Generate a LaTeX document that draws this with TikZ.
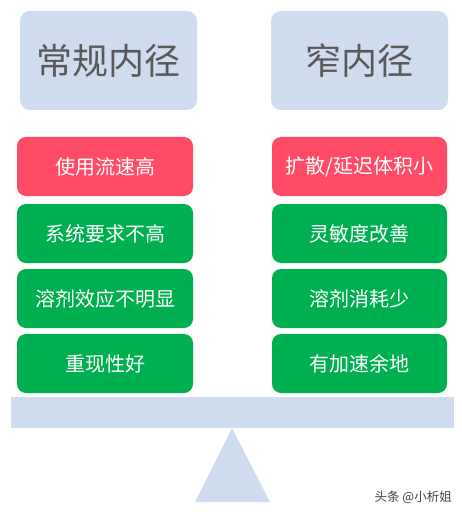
\documentclass[tikz,border=0pt]{standalone}
\usepackage{fontspec}
\setmainfont{Noto Sans CJK SC}
\newfontfamily\cjk{Noto Sans CJK SC}
\definecolor{paleblue}{HTML}{CFDBEF}
\definecolor{redfill}{HTML}{FF4B66}
\definecolor{greenfill}{HTML}{00B050}
\definecolor{headtext}{HTML}{595959}
\definecolor{marktext}{HTML}{404040}
\tikzset{
  headbox/.style={fill=paleblue, rounded corners=10pt, text=headtext, inner sep=0pt,
    minimum width=177pt, minimum height=99pt, font=\fontsize{36}{40}\selectfont\cjk},
  itembox/.style={rounded corners=9pt, text=white, inner sep=0pt,
    minimum height=59pt, font=\fontsize{20}{23}\selectfont\cjk},
  leftitem/.style={itembox, minimum width=176pt},
  rightitem/.style={itembox, minimum width=175pt},
  redbox/.style={fill=redfill},
  greenbox/.style={fill=greenfill},
}
\begin{document}
\begin{tikzpicture}[x=1pt,y=-1pt]
\useasboundingbox (0,0) rectangle (461,513);
% header boxes
\node[headbox] (hl) at (108.5,60.5) {常规内径};
\node[headbox] (hr) at (359.5,60.5) {窄内径};
% left items
\node[leftitem, redbox] (l1) at (105,166.5) {使用流速高};
\node[leftitem, greenbox] (l2) at (105,233.5) {系统要求不高};
\node[leftitem, greenbox] (l3) at (105,298.5) {溶剂效应不明显};
\node[leftitem, greenbox] (l4) at (105,363.5) {重现性好};
% right items
\node[rightitem, redbox] (r1) at (359.5,166.5) {扩散/延迟体积小};
\node[rightitem, greenbox] (r2) at (359.5,233.5) {灵敏度改善};
\node[rightitem, greenbox] (r3) at (359.5,298.5) {溶剂消耗少};
\node[rightitem, greenbox] (r4) at (359.5,363.5) {有加速余地};
% seesaw
\fill[paleblue] (11,397) rectangle (454,428);
\fill[paleblue] (232,428) -- (270,502) -- (195,502) -- cycle;
% watermark
\node[text=marktext, font=\fontsize{12.5}{14}\selectfont\cjk, anchor=east, inner sep=0pt] (wm) at (452,497) {头条 @小析姐};
\end{tikzpicture}
\end{document}
